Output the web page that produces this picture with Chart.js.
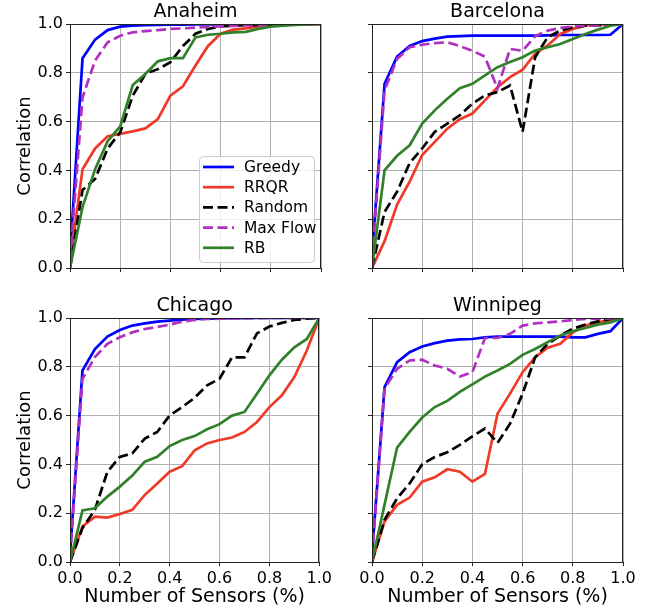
<!DOCTYPE html>
<html>
<head>
<meta charset="utf-8">
<script src="https://cdn.jsdelivr.net/npm/chart.js@4/dist/chart.umd.min.js"></script>
<style>
  body { margin: 0; background: #fff; width: 653px; height: 612px; position: relative; overflow: hidden; }
  canvas { position: absolute; }
</style>
</head>
<body>
<canvas id="anaheim" width="335" height="295" style="left:0;top:0"></canvas>
<canvas id="barcelona" width="318" height="295" style="left:335px;top:0"></canvas>
<canvas id="chicago" width="335" height="317" style="left:0;top:295px"></canvas>
<canvas id="winnipeg" width="318" height="317" style="left:335px;top:295px"></canvas>
<script>
// fraction of sensors (x positions of the samples)
const xs = [0, 0.05, 0.1, 0.15, 0.2, 0.25, 0.3, 0.35, 0.4, 0.45, 0.5,
            0.55, 0.6, 0.65, 0.7, 0.75, 0.8, 0.85, 0.9, 0.95, 1];
const xTicks = [0, 0.2, 0.4, 0.6, 0.8, 1.0];
const yTicks = [0, 0.2, 0.4, 0.6, 0.8, 1.0];
const methods = ['Greedy', 'RRQR', 'Random', 'Max Flow', 'RB'];

// Anaheim
const anaheimGreedy  = [0.05, 0.86, 0.936, 0.975, 0.989, 0.993, 0.995, 0.996, 0.997, 0.997, 0.998, 0.998, 0.998, 0.999, 0.999, 0.999, 0.999, 1, 1, 1, 1];
const anaheimRRQR    = [0.02, 0.405, 0.49, 0.54, 0.55, 0.56, 0.572, 0.61, 0.706, 0.745, 0.83, 0.91, 0.96, 0.977, 0.982, 0.99, 0.995, 0.997, 0.998, 0.999, 1];
const anaheimRandom  = [0, 0.32, 0.365, 0.49, 0.556, 0.706, 0.795, 0.815, 0.843, 0.91, 0.96, 0.98, 0.99, 0.993, 0.995, 0.996, 0.997, 0.998, 0.999, 1, 1];
const anaheimMaxFlow = [0.03, 0.70, 0.85, 0.925, 0.952, 0.966, 0.971, 0.975, 0.98, 0.982, 0.985, 0.988, 0.99, 0.992, 0.994, 0.995, 0.996, 0.997, 0.998, 0.999, 1];
const anaheimRB      = [0, 0.25, 0.405, 0.52, 0.58, 0.75, 0.795, 0.847, 0.86, 0.86, 0.945, 0.956, 0.96, 0.966, 0.968, 0.98, 0.989, 0.993, 0.996, 0.998, 1];

// Barcelona
const barcelonaGreedy  = [0.05, 0.755, 0.866, 0.91, 0.93, 0.94, 0.948, 0.95, 0.952, 0.952, 0.952, 0.952, 0.952, 0.952, 0.953, 0.955, 0.955, 0.955, 0.955, 0.956, 1];
const barcelonaRRQR    = [0, 0.11, 0.26, 0.354, 0.463, 0.517, 0.571, 0.61, 0.633, 0.687, 0.741, 0.782, 0.813, 0.878, 0.912, 0.959, 0.98, 0.993, 0.997, 0.999, 1];
const barcelonaRandom  = [0, 0.23, 0.313, 0.43, 0.49, 0.558, 0.592, 0.626, 0.673, 0.707, 0.721, 0.748, 0.558, 0.864, 0.946, 0.973, 0.986, 0.993, 0.995, 0.997, 1];
const barcelonaMaxFlow = [0.03, 0.728, 0.857, 0.905, 0.915, 0.922, 0.925, 0.91, 0.89, 0.866, 0.735, 0.898, 0.89, 0.95, 0.973, 0.984, 0.99, 0.993, 0.995, 0.998, 1];
const barcelonaRB      = [0, 0.40, 0.46, 0.503, 0.592, 0.646, 0.694, 0.737, 0.755, 0.789, 0.823, 0.844, 0.864, 0.891, 0.905, 0.918, 0.939, 0.959, 0.977, 0.993, 1];

// Chicago
const chicagoGreedy  = [0.03, 0.785, 0.873, 0.924, 0.951, 0.969, 0.978, 0.985, 0.989, 0.993, 0.996, 0.997, 0.998, 0.999, 0.999, 1, 1, 1, 1, 1, 1];
const chicagoRRQR    = [0, 0.146, 0.186, 0.182, 0.197, 0.214, 0.275, 0.322, 0.37, 0.393, 0.458, 0.486, 0.5, 0.51, 0.533, 0.574, 0.635, 0.683, 0.758, 0.867, 1];
const chicagoRandom  = [0, 0.139, 0.214, 0.37, 0.431, 0.445, 0.506, 0.533, 0.601, 0.635, 0.673, 0.724, 0.751, 0.839, 0.839, 0.937, 0.965, 0.98, 0.992, 0.997, 1];
const chicagoMaxFlow = [0.02, 0.751, 0.84, 0.894, 0.921, 0.941, 0.955, 0.963, 0.973, 0.985, 0.992, 0.996, 0.997, 0.998, 0.999, 0.999, 1, 1, 1, 1, 1];
const chicagoRB      = [0, 0.211, 0.22, 0.268, 0.309, 0.354, 0.411, 0.431, 0.475, 0.5, 0.516, 0.544, 0.565, 0.6, 0.615, 0.69, 0.765, 0.829, 0.88, 0.914, 1];

// Winnipeg
const winnipegGreedy  = [0.03, 0.717, 0.819, 0.86, 0.883, 0.897, 0.907, 0.912, 0.914, 0.921, 0.924, 0.924, 0.924, 0.924, 0.924, 0.924, 0.921, 0.921, 0.935, 0.946, 1];
const winnipegRRQR    = [0, 0.166, 0.234, 0.264, 0.329, 0.347, 0.38, 0.37, 0.329, 0.361, 0.608, 0.69, 0.778, 0.839, 0.878, 0.894, 0.941, 0.969, 0.982, 0.992, 1];
const winnipegRandom  = [0, 0.173, 0.261, 0.322, 0.401, 0.43, 0.45, 0.48, 0.515, 0.547, 0.488, 0.567, 0.69, 0.839, 0.894, 0.928, 0.956, 0.973, 0.986, 0.996, 1];
const winnipegMaxFlow = [0.02, 0.71, 0.792, 0.826, 0.829, 0.805, 0.792, 0.76, 0.778, 0.918, 0.918, 0.935, 0.969, 0.978, 0.982, 0.986, 0.992, 0.996, 0.997, 0.998, 1];
const winnipegRB      = [0, 0.235, 0.469, 0.533, 0.592, 0.635, 0.66, 0.697, 0.728, 0.76, 0.785, 0.812, 0.849, 0.873, 0.901, 0.928, 0.946, 0.959, 0.973, 0.982, 1];

const colors = ['#0000ff', '#f03a28', '#000000', '#b030c0', '#31802a'];
const dashes = [[], [], [10, 4.5], [10, 4.5], []];
const FONT = "'DejaVu Sans', sans-serif";

function makeSets(series) {
  return series.map((vals, i) => ({
    label: methods[i],
    data: vals.map((v, k) => ({ x: xs[k], y: v })),
    borderColor: colors[i],
    backgroundColor: colors[i],
    borderWidth: 2.7,
    borderDash: dashes[i],
    borderCapStyle: 'butt',
    pointRadius: 0,
    tension: 0,
    fill: false,
    order: 5 - i  // later series on top, like matplotlib
  }));
}

// titles, axis labels, top/right spines, inset legend
const decor = {
  id: 'decor',
  afterDatasetsDraw(chart) {
    const o = chart.options.plugins.decor;
    const ca = chart.chartArea;
    const ctx = chart.ctx;
    ctx.save();
    ctx.strokeStyle = '#222';
    ctx.lineWidth = 1;
    ctx.strokeRect(Math.round(ca.left) + 0.5, Math.round(ca.top) + 0.5,
                   Math.round(ca.right - ca.left) - 1, Math.round(ca.bottom - ca.top));
    ctx.fillStyle = '#000';
    ctx.textAlign = 'center';
    ctx.textBaseline = 'alphabetic';
    ctx.font = '19px ' + FONT;
    ctx.fillText(o.title, (ca.left + ca.right) / 2, ca.top - 7);
    if (o.ylabel) {
      ctx.save();
      ctx.translate(30, (ca.top + ca.bottom) / 2);
      ctx.rotate(-Math.PI / 2);
      ctx.font = '18px ' + FONT;
      ctx.fillText(o.ylabel, 0, 0);
      ctx.restore();
    }
    if (o.xlabel) {
      ctx.font = '19px ' + FONT;
      ctx.fillText(o.xlabel, (ca.left + ca.right) / 2, ca.bottom + 40);
    }
    if (o.legend) {
      const w = 115, h = 106;
      const bx = ca.right - 7 - w, by = ca.bottom - 6 - h;
      ctx.beginPath();
      ctx.roundRect(bx + 0.5, by + 0.5, w, h, 4);
      ctx.fillStyle = 'rgba(255,255,255,0.8)';
      ctx.fill();
      ctx.strokeStyle = '#cccccc';
      ctx.stroke();
      ctx.font = '15.5px ' + FONT;
      ctx.textAlign = 'left';
      ctx.textBaseline = 'middle';
      chart.data.datasets.forEach((ds, i) => {
        const y = by + 11 + i * 20.2;
        ctx.beginPath();
        ctx.setLineDash(ds.borderDash);
        ctx.strokeStyle = ds.borderColor;
        ctx.lineWidth = ds.borderWidth;
        ctx.moveTo(bx + 4, y);
        ctx.lineTo(bx + 35, y);
        ctx.stroke();
        ctx.setLineDash([]);
        ctx.fillStyle = '#000';
        ctx.fillText(ds.label, bx + 45, y + 1);
      });
    }
    ctx.restore();
  }
};

function panel(id, series, o) {
  new Chart(document.getElementById(id), {
    type: 'line',
    data: { datasets: makeSets(series) },
    plugins: [decor],
    options: {
      responsive: false,
      animation: false,
      layout: { padding: { top: o.top, right: o.right, left: 0, bottom: 0 } },
      plugins: {
        legend: { display: false },
        tooltip: { enabled: false },
        decor: o
      },
      scales: {
        x: {
          type: 'linear', min: 0, max: 1,
          afterBuildTicks: s => { s.ticks = xTicks.map(v => ({ value: v })); },
          afterFit: s => { s.height = o.xh; },
          grid: { color: '#b0b0b0', lineWidth: 1, tickLength: 4, tickColor: '#222' },
          border: { color: '#222', width: 1 },
          ticks: {
            display: o.xticks, padding: 3, color: '#000', font: { family: FONT, size: 16 },
            maxRotation: 0, autoSkip: false,
            callback: v => v.toFixed(1)
          }
        },
        y: {
          type: 'linear', min: 0, max: 1,
          afterBuildTicks: s => { s.ticks = yTicks.map(v => ({ value: v })); },
          afterFit: s => { s.width = o.yw; },
          grid: { color: '#b0b0b0', lineWidth: 1, tickLength: 4, tickColor: '#222' },
          border: { color: '#222', width: 1 },
          ticks: {
            display: o.yticks, padding: 3, color: '#000', font: { family: FONT, size: 16 },
            callback: v => v.toFixed(1)
          }
        }
      }
    }
  });
}

panel('anaheim',
  [anaheimGreedy, anaheimRRQR, anaheimRandom, anaheimMaxFlow, anaheimRB],
  { title: 'Anaheim', ylabel: 'Correlation', legend: true, xticks: false, yticks: true,
    top: 24, right: 14, yw: 70, xh: 27 });
panel('barcelona',
  [barcelonaGreedy, barcelonaRRQR, barcelonaRandom, barcelonaMaxFlow, barcelonaRB],
  { title: 'Barcelona', xticks: false, yticks: false,
    top: 24, right: 30, yw: 37, xh: 27 });
panel('chicago',
  [chicagoGreedy, chicagoRRQR, chicagoRandom, chicagoMaxFlow, chicagoRB],
  { title: 'Chicago', ylabel: 'Correlation', xlabel: 'Number of Sensors (%)', xticks: true, yticks: true,
    top: 23, right: 14, yw: 70, xh: 50 });
panel('winnipeg',
  [winnipegGreedy, winnipegRRQR, winnipegRandom, winnipegMaxFlow, winnipegRB],
  { title: 'Winnipeg', xlabel: 'Number of Sensors (%)', xticks: true, yticks: false,
    top: 23, right: 30, yw: 37, xh: 50 });
</script>
</body>
</html>
